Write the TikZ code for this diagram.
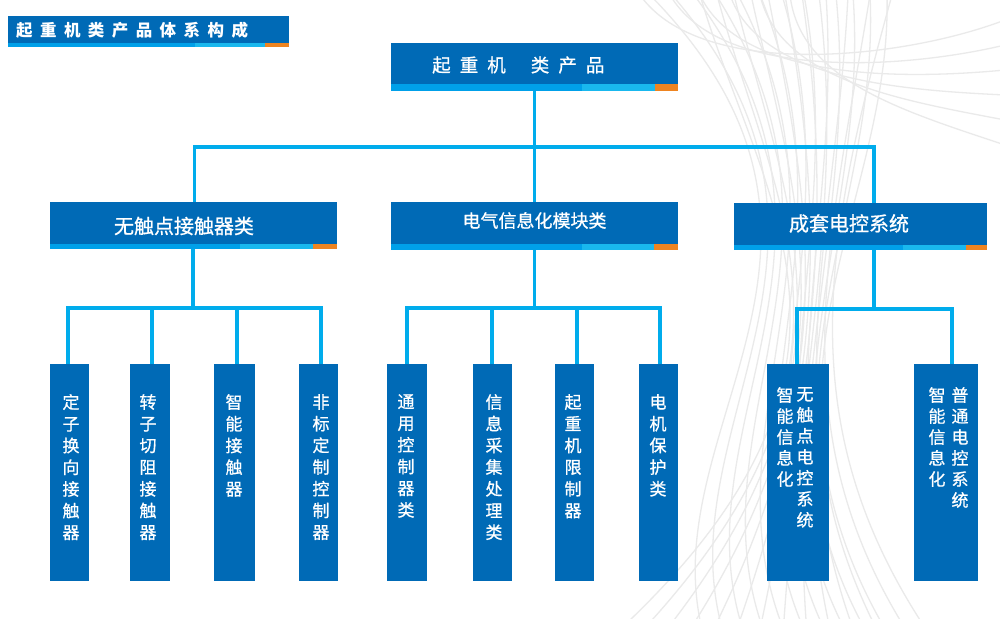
\documentclass[tikz,border=0pt]{standalone}
\usepackage{fontspec}
\setmainfont{Noto Sans CJK SC}
\usetikzlibrary{calc}
\definecolor{boxblue}{RGB}{0,106,182}
\definecolor{stripA}{RGB}{0,160,233}
\definecolor{stripB}{RGB}{25,184,238}
\definecolor{stripC}{RGB}{238,132,32}
\definecolor{linecyan}{RGB}{0,172,236}
\definecolor{bgcurve}{RGB}{234,234,234}
\newcommand\hdrbox[8]{%
  \node[boxbody, minimum width=#4, minimum height=#5] (#1) at (#2,#3) {};
  \fill[stripA] ($(#1.south west)+(0,-#8)$) rectangle ($(#1.south west)+(#6,0)$);
  \fill[stripB] ($(#1.south west)+(#6,-#8)$) rectangle ($(#1.south west)+(#7,0)$);
  \fill[stripC] ($(#1.south west)+(#7,-#8)$) rectangle (#1.south east);
}
\begin{document}
\begin{tikzpicture}[x=1pt,y=-1pt,
  boxbody/.style={fill=boxblue, draw=none, inner sep=0pt, outer sep=0pt, anchor=north west},
  vbox/.style={fill=boxblue, draw=none, inner sep=0pt, outer sep=0pt, anchor=north west, minimum height=217},
  conn/.style={draw=linecyan, line width=3.2pt},
  curve/.style={draw=bgcurve, line width=1.3pt},
  hdrtext/.style={text=white, inner sep=0pt},
  vtext/.style={text=white, inner sep=0pt, anchor=north, align=center, font=\fontsize{17}{21.7}\selectfont\addfontfeature{FakeBold=0.8}},
  vtextb/.style={text=white, inner sep=0pt, anchor=north, align=center, font=\fontsize{17}{21}\selectfont\addfontfeature{FakeBold=0.8}}
]
\useasboundingbox (0,0) rectangle (1000,618);
\fill[white] (0,0) rectangle (1000,618);

% decorative background curves
\foreach \i in {0,...,11}{
  \draw[curve] (700+17*\i,-5) .. controls (760+12*\i,200) and (900-14*\i,360) .. (630+22*\i,620);
  \draw[curve] (650+22*\i,-5) .. controls (890-6*\i,240) and (660+12*\i,420) .. (700+20*\i,620);
}
\foreach \i in {0,...,5}{
  \draw[curve] (640+30*\i,-5) .. controls (700+20*\i,80) and (900,60+10*\i) .. (1005,20+25*\i);
}

% title bar
\hdrbox{title}{8}{16}{281}{31}{187}{257}{4}
\node[hdrtext, anchor=west, font=\fontsize{16.5}{18}\selectfont\bfseries\addfontfeature{LetterSpace=45}] (titletext) at (16,30.5) {起重机类产品体系构成};

% level 1
\hdrbox{top}{391}{43}{287}{48}{191}{264}{7}
\node[hdrtext, anchor=west, font=\fontsize{18.5}{20}\selectfont\addfontfeature{LetterSpace=49,FakeBold=0.8}] (toptext) at (432,65) {起重机\hspace{25pt}类产品};

% level 2
\hdrbox{mA}{50}{202}{287}{47}{190}{263}{5}
\hdrbox{mB}{391}{202}{287}{48}{191}{263}{6}
\hdrbox{mC}{734}{203}{253}{47}{169}{232}{5}
\node[hdrtext, font=\fontsize{20}{22}\selectfont\addfontfeature{FakeBold=0.8}] (mAtext) at (184,226) {无触点接触器类};
\node[hdrtext, font=\fontsize{18}{20}\selectfont\addfontfeature{FakeBold=0.8}] (mBtext) at (534.5,220.5) {电气信息化模块类};
\node[hdrtext, font=\fontsize{20}{22}\selectfont\addfontfeature{FakeBold=0.8}] (mCtext) at (849,223.5) {成套电控系统};

% level 3 boxes
\node[vbox, minimum width=39] (a1) at (50,364) {};
\node[vbox, minimum width=40] (a2) at (130,364) {};
\node[vbox, minimum width=41] (a3) at (214,364) {};
\node[vbox, minimum width=39] (a4) at (299,364) {};
\node[vbox, minimum width=40] (b1) at (387,364) {};
\node[vbox, minimum width=39] (b2) at (473,364) {};
\node[vbox, minimum width=39] (b3) at (555,364) {};
\node[vbox, minimum width=39] (b4) at (639,364) {};
\node[vbox, minimum width=62] (c1) at (767,364) {};
\node[vbox, minimum width=64] (c2) at (914,364) {};

\node[vtext] (a1t) at (71,394) {定\\子\\换\\向\\接\\触\\器};
\node[vtext] (a2t) at (148,394) {转\\子\\切\\阻\\接\\触\\器};
\node[vtext] (a3t) at (234,394) {智\\能\\接\\触\\器};
\node[vtext] (a4t) at (321,394) {非\\标\\定\\制\\控\\制\\器};
\node[vtext] (b1t) at (406,394) {通\\用\\控\\制\\器\\类};
\node[vtext] (b2t) at (494,394) {信\\息\\采\\集\\处\\理\\类};
\node[vtext] (b3t) at (573,394) {起\\重\\机\\限\\制\\器};
\node[vtext] (b4t) at (658,394) {电\\机\\保\\护\\类};
\node[vtextb] (c1l) at (785,387) {智\\能\\信\\息\\化};
\node[vtextb] (c1r) at (805,387) {无\\触\\点\\电\\控\\系\\统};
\node[vtextb] (c2l) at (937,387) {智\\能\\信\\息\\化};
\node[vtextb] (c2r) at (960,387) {普\\通\\电\\控\\系\\统};

% connectors level 1 -> 2
\draw[conn] (top.south) -- ($(mB.north)$);
\draw[conn] ($(mA.north)+(1,0)$) |- ($(mC.north)+(13.5,-56)$) -- ($(mC.north)+(13.5,0)$);

% connectors group A
\draw[conn] ($(mA.south)+(-0.5,0)$) -- ($(mA.south)+(-0.5,59)$);
\draw[conn] ($(a1.north)+(-1.5,0)$) |- ($(a4.north)+(2.5,-56)$) -- ($(a4.north)+(2.5,0)$);
\draw[conn] ($(a2.north)+(2,0)$) -- ++(0,-56);
\draw[conn] ($(a3.north)+(2.5,0)$) -- ++(0,-56);

% connectors group B
\draw[conn] (mB.south) -- ++(0,58);
\draw[conn] (b1.north) |- ($(b4.north)+(1.5,-56)$) -- ($(b4.north)+(1.5,0)$);
\draw[conn] ($(b2.north)+(-0.5,0)$) -- ++(0,-56);
\draw[conn] ($(b3.north)+(2.5,0)$) -- ++(0,-56);

% connectors group C
\draw[conn] ($(mC.south)+(13.5,0)$) -- ++(0,59);
\draw[conn] ($(c1.north)+(-1,0)$) |- ($(c2.north)+(6,-55)$) -- ($(c2.north)+(6,0)$);
\end{tikzpicture}
\end{document}
